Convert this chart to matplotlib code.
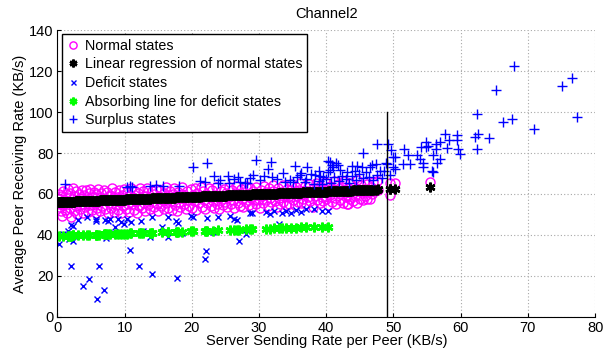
import numpy as np
import matplotlib
matplotlib.use("Agg")
from matplotlib import pyplot as plt

plt.rcParams['font.family'] = ['Liberation Sans', 'DejaVu Sans']

# normal states (server rate per peer, receiving rate), KB/s
normal_pts = [
    (0.1, 57.5), (0.2, 53.8), (0.3, 60.2), (0.4, 55.1), (0.5, 51.6), (0.6, 58.9), (0.7, 49.3), (0.8, 61.4),
    (0.9, 54.6), (1.0, 57.0), (1.1, 52.4), (1.3, 59.8), (1.4, 50.7), (1.5, 62.3), (1.6, 55.9), (1.8, 53.1),
    (1.9, 60.7), (2.0, 48.9), (2.1, 57.8), (2.3, 62.8), (2.4, 51.9), (2.5, 59.1), (2.7, 54.2), (2.8, 61.6),
    (2.9, 50.3), (3.0, 56.4), (3.2, 60.1), (3.3, 52.8), (3.4, 58.2), (3.6, 62.1), (3.7, 55.0), (3.8, 50.9),
    (4.0, 59.5), (4.1, 53.6), (4.2, 61.8), (4.4, 57.2), (4.5, 51.4), (4.7, 60.6), (4.8, 54.8), (4.9, 62.6),
    (5.1, 52.2), (5.2, 58.6), (5.4, 55.7), (5.5, 61.1), (5.7, 50.6), (5.8, 59.9), (5.9, 53.4), (6.1, 62.4),
    (6.2, 56.8), (6.4, 51.8), (6.5, 60.3), (6.6, 54.1), (6.8, 58.1), (6.9, 62.0), (7.1, 52.6), (7.2, 57.4),
    (7.4, 61.2), (7.5, 50.8), (7.7, 55.6), (7.8, 59.7), (8.0, 53.2), (8.1, 62.9), (8.3, 57.9), (8.4, 51.2),
    (8.6, 60.8), (8.7, 54.5), (8.9, 58.7), (9.0, 52.0), (9.2, 61.9), (9.3, 56.2), (9.5, 50.5), (9.6, 59.3),
    (9.8, 54.0), (9.9, 62.2), (10.1, 57.6), (10.2, 52.9), (10.4, 61.0), (10.5, 55.3), (10.7, 51.3), (10.8, 59.6),
    (11.0, 63.1), (11.1, 54.9), (11.3, 58.4), (11.4, 52.3), (11.6, 61.5), (11.7, 56.7), (11.9, 50.9), (12.0, 60.4),
    (12.2, 54.3), (12.3, 62.7), (12.5, 58.0), (12.6, 53.0), (12.8, 61.3), (12.9, 55.8), (13.1, 51.7), (13.2, 59.2),
    (13.4, 63.0), (13.5, 54.6), (13.7, 57.5), (13.8, 52.5), (14.0, 61.7), (14.1, 56.0), (14.3, 59.8), (14.4, 53.7),
    (14.6, 62.5), (14.8, 55.2), (15.0, 51.9), (15.1, 58.8), (15.3, 61.9), (15.4, 54.0), (15.6, 57.1), (15.8, 52.8),
    (15.9, 60.6), (16.1, 63.3), (16.2, 55.5), (16.4, 58.3), (16.5, 53.3), (16.7, 61.4), (16.9, 56.4), (17.0, 52.1),
    (17.2, 59.9), (17.3, 62.8), (17.5, 54.7), (17.7, 58.5), (17.8, 51.6), (18.0, 61.1), (18.1, 56.1), (18.3, 53.6),
    (18.5, 60.2), (18.6, 63.2), (18.8, 55.0), (19.0, 58.2), (19.1, 52.7), (19.3, 61.6), (19.5, 57.0), (19.6, 54.2),
    (19.8, 62.4), (20.0, 53.1), (20.1, 59.4), (20.3, 56.5), (20.5, 62.9), (20.6, 52.4), (20.8, 60.5), (21.0, 55.4),
    (21.1, 58.6), (21.3, 63.4), (21.5, 53.9), (21.6, 61.3), (21.8, 57.3), (22.0, 52.9), (22.1, 60.0), (22.3, 55.6),
    (22.5, 63.0), (22.6, 58.9), (22.8, 54.1), (23.0, 61.8), (23.1, 56.8), (23.3, 53.4), (23.5, 59.7), (23.6, 63.6),
    (23.8, 55.2), (24.0, 58.1), (24.1, 52.6), (24.3, 61.5), (24.5, 57.6), (24.6, 54.4), (24.8, 62.6), (25.0, 56.0),
    (25.1, 60.3), (25.3, 53.5), (25.5, 63.2), (25.6, 58.4), (25.8, 54.9), (26.0, 61.9), (26.1, 57.2), (26.3, 53.0),
    (26.5, 60.7), (26.6, 63.8), (26.8, 55.8), (27.0, 59.1), (27.1, 54.2), (27.3, 62.2), (27.5, 57.8), (27.6, 53.6),
    (27.8, 61.0), (28.0, 64.0), (28.1, 56.3), (28.3, 59.6), (28.5, 54.7), (28.6, 62.7), (28.8, 58.0), (29.0, 53.8),
    (29.1, 61.4), (29.3, 56.9), (29.5, 63.5), (29.6, 55.1), (29.8, 60.1), (30.0, 57.4), (30.1, 53.3), (30.3, 62.0),
    (30.5, 59.0), (30.6, 55.5), (30.8, 64.1), (31.0, 57.0), (31.1, 60.8), (31.3, 54.0), (31.5, 62.9), (31.6, 58.2),
    (31.8, 55.9), (32.0, 61.5), (32.1, 64.4), (32.3, 56.6), (32.5, 59.8), (32.6, 53.7), (32.8, 63.0), (33.0, 57.9),
    (33.1, 55.3), (33.3, 61.2), (33.5, 64.6), (33.6, 56.0), (33.8, 59.4), (34.0, 54.4), (34.1, 62.6), (34.3, 58.6),
    (34.5, 55.0), (34.6, 61.9), (34.8, 65.0), (35.0, 57.1), (35.1, 60.4), (35.3, 54.6), (35.5, 63.3), (35.6, 58.8),
    (35.8, 56.2), (36.0, 62.1), (36.1, 65.2), (36.3, 55.7), (36.5, 60.0), (36.6, 57.5), (36.8, 63.8), (37.0, 54.9),
    (37.1, 61.3), (37.3, 58.3), (37.5, 64.9), (37.6, 56.4), (37.8, 60.9), (38.0, 53.9), (38.1, 62.8), (38.3, 59.2),
    (38.5, 65.6), (38.6, 57.0), (38.8, 61.7), (39.0, 55.4), (39.1, 63.9), (39.3, 58.7), (39.5, 56.6), (39.6, 62.4),
    (39.8, 65.9), (40.0, 57.7), (40.1, 60.6), (40.3, 54.5), (40.5, 64.0), (40.6, 59.5), (40.8, 56.1), (41.0, 62.6),
    (41.1, 66.1), (41.3, 58.0), (41.5, 55.0), (41.6, 61.1), (41.8, 64.8), (42.0, 57.3), (42.1, 59.9), (42.3, 63.2),
    (42.5, 55.8), (42.6, 66.3), (42.8, 60.5), (43.0, 58.5), (43.1, 54.9), (43.3, 62.9), (43.5, 65.3), (43.6, 57.6),
    (43.8, 60.2), (44.0, 56.5), (44.1, 63.6), (44.3, 59.0), (44.5, 66.6), (44.6, 55.6), (44.8, 61.8), (45.0, 57.4),
    (45.1, 64.2), (45.3, 60.3), (45.5, 56.9), (45.6, 62.5), (45.8, 59.1), (46.0, 64.9), (46.1, 57.8), (46.3, 61.2),
    (46.5, 57.4), (46.6, 63.4), (46.8, 60.0), (47.0, 66.0), (47.2, 61.5), (47.5, 66.5), (47.7, 62.0), (43.3, 55.1),
    (49.5, 65.5), (50.2, 65.5), (49.5, 59.5), (55.5, 65.7),
]

# deficit states
deficit_pts = [
    (0.27, 35.6), (1.6, 42.0), (2.0, 44.9), (2.3, 44.4), (1.7, 37.9), (2.3, 37.2), (2.0, 24.7), (4.4, 48.8),
    (3.75, 15.0), (4.7, 18.7), (5.9, 8.6), (6.2, 25.0), (6.9, 13.0), (5.8, 48.0), (5.8, 46.8), (7.1, 47.5),
    (7.5, 47.0), (7.8, 47.6), (7.2, 38.5), (8.6, 44.0), (9.0, 48.0), (9.4, 46.5), (9.9, 45.5), (10.8, 32.8),
    (12.5, 46.8), (12.7, 42.0), (12.2, 25.0), (14.1, 21.1), (13.8, 39.2), (14.0, 48.8), (15.5, 43.7), (16.5, 39.2),
    (16.5, 48.8), (17.7, 46.7), (17.9, 45.7), (17.8, 19.2), (18.5, 40.8), (19.9, 49.4), (20.2, 49.0), (22.05, 32.4),
    (21.95, 28.1), (22.3, 48.1), (23.2, 41.5), (23.9, 48.7), (25.7, 49.3), (26.2, 47.7), (26.7, 47.3), (27.0, 37.1),
    (28.1, 40.6), (28.6, 50.9), (28.9, 50.5), (31.1, 51.0), (31.6, 50.3), (32.2, 51.5), (32.9, 45.6), (33.4, 50.8),
    (34.0, 51.9), (34.7, 50.6), (35.5, 52.2), (36.3, 51.2), (37.0, 52.5), (38.1, 52.5), (39.3, 51.5), (40.3, 51.5),
    (10.3, 47.6), (11.0, 46.5), (3.0, 47.5), (0.8, 40.5),
]

# surplus states
surplus_pts = [
    (1.1, 64.9), (10.3, 63.6), (10.8, 64.0), (11.1, 63.6), (13.8, 64.0), (14.7, 64.5), (15.7, 63.9), (18.1, 63.9),
    (20.2, 73.3), (22.2, 75.1), (22.0, 65.7), (23.3, 68.8), (24.2, 66.8), (25.4, 68.8), (26.2, 67.2), (26.9, 68.3),
    (25.6, 65.5), (27.9, 65.5), (28.2, 65.2), (29.1, 69.3), (29.5, 76.6), (30.1, 66.8), (31.8, 75.5), (31.4, 72.0),
    (31.9, 68.3), (33.5, 70.4), (34.6, 66.8), (35.3, 73.9), (36.1, 69.3), (37.2, 73.0), (35.6, 68.5), (36.2, 70.1),
    (37.0, 67.5), (37.8, 69.9), (38.3, 69.3), (38.9, 71.0), (39.5, 68.2), (40.2, 70.5), (40.2, 76.3), (40.5, 75.8),
    (40.8, 74.1), (41.5, 75.3), (41.8, 74.1), (41.0, 73.3), (43.8, 73.7), (44.5, 73.5), (45.3, 73.3), (46.5, 73.3),
    (46.8, 74.1), (47.4, 74.6), (45.4, 80.1), (47.6, 84.4), (49.2, 84.4), (48.9, 75.0), (48.6, 71.2), (49.0, 74.6),
    (49.5, 69.3), (49.7, 81.5), (50.0, 78.2), (50.2, 78.2), (50.2, 72.0), (50.0, 73.3), (51.5, 81.8), (51.4, 74.6),
    (52.2, 79.0), (52.4, 74.6), (53.5, 79.0), (53.9, 76.9), (54.4, 73.3), (54.4, 75.3), (55.8, 71.2), (56.5, 75.3),
    (56.9, 77.1), (55.9, 79.0), (54.1, 82.9), (54.8, 82.9), (55.1, 83.4), (54.8, 85.5), (56.3, 84.4), (56.3, 81.8),
    (56.9, 85.5), (57.9, 82.3), (57.7, 89.3), (58.3, 86.3), (59.4, 88.8), (59.4, 86.3), (59.6, 82.1), (59.9, 79.5),
    (62.1, 88.0), (62.6, 89.3), (62.4, 82.1), (62.4, 99.0), (64.2, 87.3), (65.2, 110.7), (66.3, 95.3), (67.7, 96.4),
    (67.9, 122.4), (70.9, 91.5), (75.0, 112.7), (76.6, 116.8), (77.3, 97.7), (55.9, 70.9),
    (38.2, 64.8), (38.9, 66.5), (39.4, 65.0), (40.0, 67.3), (40.7, 65.6), (41.2, 68.4), (41.9, 66.2), (42.4, 69.0),
    (42.9, 67.2), (43.4, 65.4), (43.9, 68.6), (44.4, 66.9), (44.9, 69.7), (45.4, 67.6), (45.9, 70.8), (46.4, 68.3),
    (46.9, 66.8), (47.5, 69.5), (48.0, 71.0), (48.3, 67.8), (39.0, 68.7), (40.6, 71.5), (42.0, 71.8), (43.1, 70.5),
    (44.2, 71.4), (36.8, 66.0), (35.0, 65.9), (33.9, 65.8), (32.7, 67.5), (30.8, 68.9), (28.7, 67.9), (27.2, 66.0),
    (23.9, 65.6), (21.2, 66.2),
]

# fitted line through the normal states, and the absorbing line for deficits
reg_intercept, reg_slope = 56.0, 0.13
absorb_intercept, absorb_slope = 39.5, 0.115
threshold_x = 49.0
threshold_top = 100.0

nx, ny = np.array(normal_pts).T
dx, dy = np.array(deficit_pts).T
sx, sy = np.array(surplus_pts).T

fig = plt.figure(figsize=(6.11, 3.53), dpi=100)
ax = fig.add_axes([0.094, 0.102, 0.880, 0.813])

ax.plot(nx, ny, 'o', ls='none', mfc='none', mec='#ff00ff', ms=6.5, mew=1.0,
        label='Normal states')
ax.plot(nx, reg_intercept + reg_slope * nx, ls='none', marker=(6, 2, 0), color='k',
        ms=7, mew=1.8, label='Linear regression of normal states')
ax.plot(dx, dy, 'x', ls='none', color='#0000ff', ms=4.5, mew=1.0, label='Deficit states')
ax.plot(dx, absorb_intercept + absorb_slope * dx, ls='none', marker=(6, 2, 0), color='#00ff00',
        ms=7, mew=1.8, label='Absorbing line for deficit states')
ax.plot(sx, sy, '+', ls='none', color='#0000ff', ms=6.5, mew=1.0, label='Surplus states')
ax.plot([threshold_x, threshold_x], [0, threshold_top], color='k', lw=1.0)

ax.set_xlim(0, 80)
ax.set_ylim(0, 140)
ax.set_xticks(np.arange(0, 81, 10))
ax.set_yticks(np.arange(0, 141, 20))
ax.grid(True, linestyle=(0, (1, 2)), color='#a8a8a8', linewidth=0.8)
ax.set_axisbelow(True)
ax.spines['top'].set_visible(False)
ax.spines['right'].set_visible(False)
ax.tick_params(direction='in', length=3, labelsize=10.5, top=False, right=False, pad=3)

ax.set_title('Channel2', fontsize=10.5, pad=9)
ax.set_xlabel('Server Sending Rate per Peer (KB/s)', fontsize=10.5, labelpad=-1)
ax.set_ylabel('Average Peer Receiving Rate (KB/s)', fontsize=10.5, labelpad=1)

leg = ax.legend(loc='upper left', fontsize=10.3, handlelength=1.0, handletextpad=0.35,
                borderpad=0.3, labelspacing=0.33, borderaxespad=0.3, fancybox=False,
                framealpha=1, edgecolor='k', markerscale=0.8)
leg.get_frame().set_linewidth(1.0)

fig.savefig('out.png', dpi=100)
